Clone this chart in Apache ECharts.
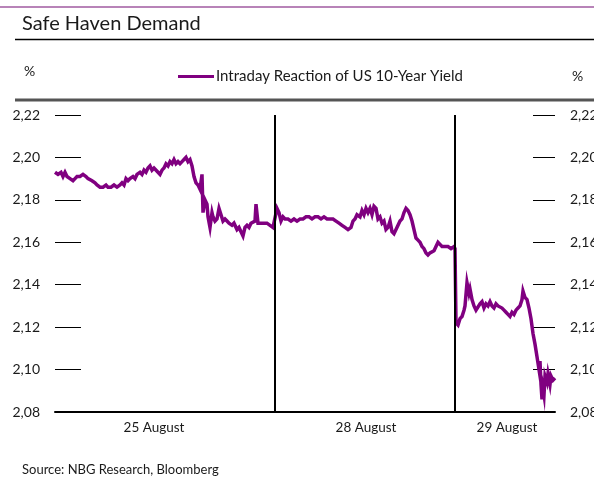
<!DOCTYPE html>
<html>
<head>
<meta charset="utf-8">
<script src="https://cdn.jsdelivr.net/npm/echarts@6/dist/echarts.min.js"></script>
<style>
  html, body { margin: 0; padding: 0; background: #fff; }
  #chart { width: 594px; height: 479px; }
</style>
</head>
<body>
<div id="chart"></div>
<script>
// Intraday time index across the three sessions (25, 28, 29 August)
const tickTime = [
  0, 3, 6, 8, 10, 12, 15, 18, 20, 22, 25, 28, 31, 33, 35, 37, 40, 42, 45, 48,
  51, 53, 56, 59, 62, 65, 67, 69, 71, 73, 75, 78, 80, 82, 85, 87, 89, 91, 93, 95,
  97, 99, 101, 103, 105, 107, 109, 111, 113, 115, 117, 119, 121, 123, 125, 127, 129, 131, 133, 135,
  137, 139, 141, 143, 145, 147, 148, 150, 152, 153, 155, 157, 158, 160, 162, 164, 166, 168, 170, 172,
  174, 177, 179, 182, 184, 186, 188, 190, 192, 194, 196, 198, 200, 201, 203, 206, 209, 212, 215, 218,
  220,
  222, 224, 226, 228, 230, 233, 236, 239, 242, 245, 248, 251, 254, 257, 260, 263, 266, 269, 272, 275,
  278, 281, 284, 287, 290, 293, 296, 298, 300, 302, 305, 307, 309, 311, 313, 315, 317, 319, 321, 323,
  325, 327, 329, 331, 333, 335, 337, 339, 341, 343, 345, 347, 349, 351, 353, 355, 357, 359, 361, 363,
  365, 367, 369, 371, 373, 375, 377, 379, 381, 383, 385, 387, 390, 393, 396, 399, 400,
  401, 403, 405, 407, 409, 410, 412, 414, 415, 417, 419, 421, 423, 425, 427, 429, 431, 433, 435, 437,
  439, 441, 443, 445, 447, 449, 451, 453, 455, 457, 459, 461, 463, 465, 467, 468, 470, 472, 474, 476,
  478, 480, 482, 484, 485, 486, 487, 488, 489, 490, 492, 493, 495, 496, 498, 500
];

// US 10-year Treasury yield, %
const yieldPct = [
  2.193, 2.192, 2.193, 2.191, 2.193, 2.191, 2.190, 2.189, 2.190, 2.191, 2.191, 2.192, 2.191, 2.190, 2.190, 2.189, 2.188, 2.187, 2.186, 2.186,
  2.187, 2.186, 2.186, 2.187, 2.186, 2.187, 2.188, 2.187, 2.190, 2.189, 2.190, 2.191, 2.190, 2.192, 2.193, 2.192, 2.194, 2.193, 2.195, 2.196,
  2.194, 2.195, 2.195, 2.193, 2.192, 2.194, 2.195, 2.197, 2.196, 2.198, 2.197, 2.199, 2.197, 2.198, 2.197, 2.198, 2.199, 2.200, 2.198, 2.199,
  2.196, 2.191, 2.188, 2.187, 2.185, 2.192, 2.174, 2.180, 2.178, 2.172, 2.167, 2.174, 2.172, 2.170, 2.171, 2.176, 2.173, 2.170, 2.171, 2.170,
  2.169, 2.168, 2.169, 2.166, 2.167, 2.165, 2.163, 2.167, 2.168, 2.167, 2.169, 2.169, 2.170, 2.178, 2.169, 2.169, 2.169, 2.169, 2.168, 2.167,
  2.167,
  2.176, 2.174, 2.170, 2.172, 2.171, 2.171, 2.170, 2.171, 2.170, 2.171, 2.171, 2.172, 2.172, 2.171, 2.172, 2.172, 2.171, 2.172, 2.171, 2.171,
  2.171, 2.170, 2.169, 2.168, 2.167, 2.166, 2.167, 2.170, 2.171, 2.173, 2.172, 2.175, 2.173, 2.176, 2.174, 2.176, 2.173, 2.177, 2.176, 2.171,
  2.172, 2.169, 2.170, 2.166, 2.167, 2.170, 2.165, 2.164, 2.166, 2.168, 2.170, 2.171, 2.174, 2.176, 2.175, 2.173, 2.170, 2.166, 2.162, 2.161,
  2.160, 2.158, 2.157, 2.155, 2.154, 2.155, 2.155, 2.156, 2.158, 2.160, 2.159, 2.158, 2.158, 2.158, 2.157, 2.158, 2.157,
  2.122, 2.121, 2.124, 2.125, 2.128, 2.130, 2.141, 2.136, 2.138, 2.133, 2.130, 2.128, 2.128, 2.131, 2.132, 2.129, 2.131, 2.130, 2.132, 2.130,
  2.129, 2.131, 2.130, 2.130, 2.129, 2.128, 2.127, 2.126, 2.125, 2.127, 2.126, 2.128, 2.129, 2.130, 2.133, 2.137, 2.134, 2.133, 2.129, 2.124,
  2.117, 2.112, 2.106, 2.100, 2.104, 2.093, 2.086, 2.091, 2.088, 2.097, 2.094, 2.098, 2.093, 2.097, 2.095, 2.096
];

// Session boundaries and session labels on the time index
const dayBreaks = [220, 400];
const dayLabels = ['25 August', '28 August', '29 August'];
const dayLabelAt = [99, 311, 452];

// Yield axis range
const yMin = 2.08;
const yMax = 2.22;
const yStep = 0.02;

const FONT = 'Lato, "Open Sans", sans-serif';
const PURPLE = '#800080';

const chart = echarts.init(document.getElementById('chart'), null, { renderer: 'canvas' });

const fmtPct = v => v.toFixed(2).replace('.', ',');

const yAxisBase = {
  type: 'value',
  min: yMin,
  max: yMax,
  interval: yStep,
  splitLine: { show: false },
  axisLine: { show: false },
  axisLabel: {
    formatter: fmtPct,
    fontFamily: FONT,
    fontSize: 14,
    color: '#1a1a1a',
    margin: 15
  }
};

chart.setOption({
  animation: false,
  backgroundColor: '#fff',
  grid: { left: 55, right: 39, top: 115, bottom: 67, containLabel: false, outerBoundsMode: 'none' },
  legend: {
    data: ['Intraday Reaction of US 10-Year Yield'],
    left: 173,
    top: 64,
    icon: 'rect',
    itemWidth: 36,
    itemHeight: 3,
    textStyle: { fontFamily: FONT, fontSize: 15, color: '#1a1a1a', padding: [0, 0, 0, -3] }
  },
  xAxis: {
    type: 'value',
    min: 0,
    max: 500,
    splitLine: { show: false },
    axisTick: { show: false },
    axisLine: { show: true, lineStyle: { color: '#000', width: 2 } },
    axisLabel: {
      customValues: dayLabelAt,
      formatter: v => dayLabels[dayLabelAt.indexOf(v)] || '',
      fontFamily: FONT,
      fontSize: 13.5,
      color: '#1a1a1a',
      margin: 9
    }
  },
  yAxis: [
    Object.assign({}, yAxisBase, {
      position: 'left',
      axisTick: { show: true, inside: true, length: 26, lineStyle: { color: '#000', width: 1 } }
    }),
    Object.assign({}, yAxisBase, {
      position: 'right',
      axisTick: { show: true, inside: true, length: 22, lineStyle: { color: '#000', width: 1 } }
    })
  ],
  series: [{
    name: 'Intraday Reaction of US 10-Year Yield',
    type: 'line',
    yAxisIndex: 0,
    showSymbol: false,
    symbol: 'none',
    lineStyle: { color: PURPLE, width: 3.5, join: 'miter' },
    itemStyle: { color: PURPLE },
    data: tickTime.map((t, i) => [t, yieldPct[i]]),
    markLine: {
      silent: true,
      symbol: 'none',
      label: { show: false },
      lineStyle: { color: '#000', width: 2, type: 'solid' },
      data: dayBreaks.map(x => ({ xAxis: x }))
    }
  }],
  graphic: [
    { type: 'line', shape: { x1: 0, y1: 7, x2: 594, y2: 7 }, style: { stroke: '#a05aa0', lineWidth: 1.5 } },
    { type: 'text', left: 22, top: 14, style: { text: 'Safe Haven Demand', font: '20px ' + FONT, fill: '#1a1a1a' } },
    { type: 'line', shape: { x1: 15, y1: 39.5, x2: 594, y2: 39.5 }, style: { stroke: '#000', lineWidth: 1.5 } },
    { type: 'text', left: 24, top: 64, style: { text: '%', font: '14px ' + FONT, fill: '#1a1a1a' } },
    { type: 'text', left: 572, top: 69, style: { text: '%', font: '14px ' + FONT, fill: '#1a1a1a' } },
    { type: 'line', shape: { x1: 15, y1: 100, x2: 594, y2: 100 }, style: { stroke: '#555', lineWidth: 3 } },
    { type: 'text', left: 22, top: 463, style: { text: 'Source: NBG Research, Bloomberg', font: '13px ' + FONT, fill: '#1a1a1a' } }
  ]
});
</script>
</body>
</html>
